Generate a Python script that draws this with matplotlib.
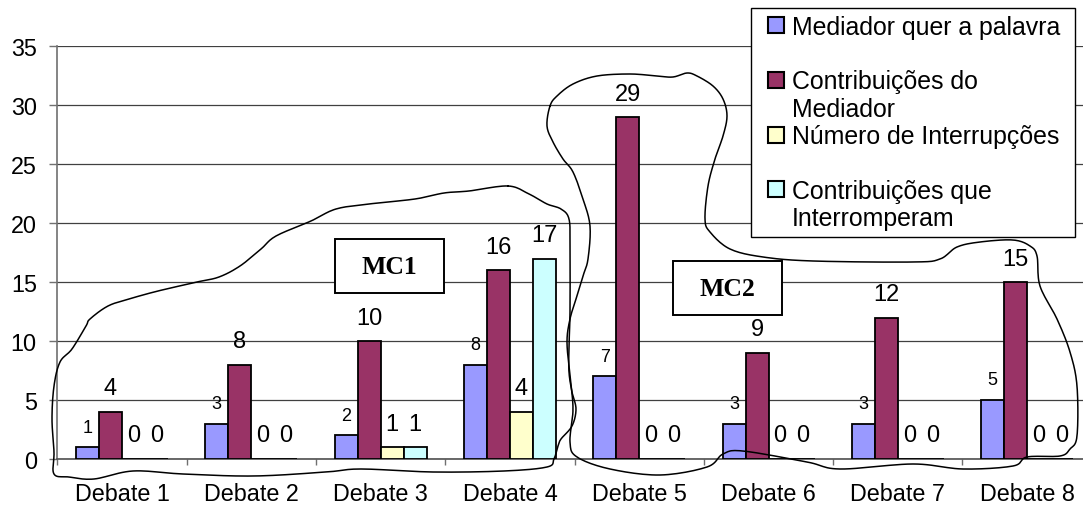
import numpy as np
import matplotlib
matplotlib.use("Agg")
import matplotlib.pyplot as plt
from matplotlib.patches import Rectangle, Patch
from matplotlib.transforms import Affine2D
from matplotlib.legend_handler import HandlerPatch
from matplotlib.font_manager import FontProperties

plt.rcParams["font.family"] = ["Liberation Sans", "DejaVu Sans"]

# ---- data -------------------------------------------------------------
debates = ["Debate 1", "Debate 2", "Debate 3", "Debate 4",
           "Debate 5", "Debate 6", "Debate 7", "Debate 8"]
mediador_quer = [1, 3, 2, 8, 7, 3, 3, 5]
contrib_mediador = [4, 8, 10, 16, 29, 9, 12, 15]
interrupcoes = [0, 0, 1, 4, 0, 0, 0, 0]
contrib_interromperam = [0, 0, 1, 17, 0, 0, 0, 0]

series_labels = ["Mediador quer a palavra",
                 "Contribuições do\nMediador",
                 "Número de Interrupções",
                 "Contribuições que\nInterromperam"]
series_colors = ["#9999FF", "#993366", "#FFFFCC", "#CCFFFF"]
y_ticks = [0, 5, 10, 15, 20, 25, 30, 35]

# freehand outlines around the two groups (figure pixels, y downwards)
mc1_outline = [
    (508, 187), (469, 192), (444, 194), (415, 200), (369, 205), (336, 210),
    (311, 222), (276, 237), (261, 250), (240, 267), (219, 278), (197, 283),
    (158, 292), (129, 300), (108, 307), (90, 320), (86, 327), (72, 350),
    (60, 363), (54, 387), (52, 420), (54, 453), (54, 475), (69, 478),
    (94, 480), (133, 472), (183, 475), (254, 477), (326, 473), (361, 470),
    (433, 473), (504, 472), (547, 468), (554, 460), (558, 447), (561, 440),
    (572, 427), (576, 410), (572, 393), (569, 373), (569, 347), (570, 313),
    (570, 247), (569, 220), (561, 210), (547, 205), (529, 195)]
mc2_outline = [
    (550, 107), (557, 97), (573, 85), (597, 77), (630, 75), (657, 77),
    (673, 78), (687, 74), (697, 77), (713, 87), (723, 100), (727, 117),
    (723, 137), (715, 160), (708, 187), (705, 220), (710, 233), (730, 250),
    (763, 258), (813, 262), (913, 263), (940, 260), (957, 248), (980, 243),
    (1013, 241), (1030, 247), (1037, 257), (1040, 287), (1057, 320),
    (1070, 353), (1077, 387), (1077, 437), (1070, 450), (1060, 457),
    (1027, 458), (1013, 467), (963, 470), (913, 465), (840, 470), (807, 463),
    (743, 452), (723, 455), (707, 468), (660, 476), (610, 470), (577, 458),
    (570, 443), (573, 410), (570, 377), (567, 343), (570, 320), (576, 300),
    (583, 277), (588, 260), (590, 227), (583, 200), (573, 173), (563, 160),
    (553, 143), (547, 127)]

# ---- figure -----------------------------------------------------------
W, H = 1083, 510
DPI = 100
fig = plt.figure(figsize=(W / DPI, H / DPI), dpi=DPI)
px = Affine2D().scale(1 / W, -1 / H).translate(0, 1) + fig.transFigure
pt_per_px = 72 / DPI

left, right, bottom, top = 57.4, 1091.8, 460.0, 47.3
ax = fig.add_axes([left / W, 1 - bottom / H, (right - left) / W, (bottom - top) / H])

x = np.arange(len(debates))
bw = 0.178
series = [mediador_quer, contrib_mediador, interrupcoes, contrib_interromperam]
containers = []
for i, (vals, col) in enumerate(zip(series, series_colors)):
    bc = ax.bar(x + (i - 1.5) * bw, vals, bw, color=col, edgecolor="black",
                linewidth=1.3, zorder=3)
    containers.append(bc)

ax.bar_label(containers[0], padding=8.4, fontsize=13)
for bc in containers[1:]:
    ax.bar_label(bc, padding=9, fontsize=17)

ax.set_xlim(-0.5, len(debates) - 0.5)
ax.set_ylim(0, 35)
ax.set_yticks(y_ticks)
ax.set_xticks(x)
ax.set_xticklabels(debates, fontsize=16.8)
ax.set_xticks(np.arange(len(debates) + 1) - 0.5, minor=True)
ax.tick_params(axis="x", which="major", length=0, pad=16.5)
ax.tick_params(axis="x", which="minor", length=4.3, direction="out",
               color="#707070", width=1)
ax.tick_params(axis="y", length=5.8, direction="out", color="#707070",
               width=1, labelsize=16.8, pad=9)

ax.yaxis.grid(True, color="#404040", linewidth=0.9)
ax.set_axisbelow(True)
for s in ("top", "right"):
    ax.spines[s].set_visible(False)
ax.spines["left"].set_color("#707070")
ax.spines["bottom"].set_color("#505050")
ax.spines["left"].set_linewidth(1.2)
ax.spines["bottom"].set_linewidth(1.2)

# ---- legend -----------------------------------------------------------
LEG_FS = 17.9
LINE_STEP_PX = 27.3    # distance between the two lines of an entry
ENTRY_STEP_PX = 54.7   # distance between consecutive entries
fs_px = LEG_FS / pt_per_px

renderer = fig.canvas.get_renderer()
_, lp_h, lp_d = renderer.get_text_width_height_descent(
    "lp", FontProperties(family=["Liberation Sans", "DejaVu Sans"], size=LEG_FS),
    ismath=False)
leg_ls = (LINE_STEP_PX - lp_d) / (lp_h - lp_d)
leg_labelspacing = (ENTRY_STEP_PX - (lp_h + LINE_STEP_PX)) / fs_px
square_yc_pt = (0.5 * LINE_STEP_PX + 0.5 * lp_d + 0.344 * fs_px) * pt_per_px


def first_line_square(legend, orig_handle, xdescent, ydescent, width,
                      height, fontsize):
    # square beside the first text line of a two-line entry
    side = 11.5
    return Rectangle((-xdescent + 7.4, square_yc_pt - side / 2), side, side)


handles = []
for lab, col in zip(series_labels, series_colors):
    text = lab if "\n" in lab else lab + "\n"
    handles.append(Patch(facecolor=col, edgecolor="black", linewidth=1.5,
                         label=text))

leg = ax.legend(handles=handles, loc="upper left", mode="expand",
                bbox_to_anchor=(751 / W, 1 - 235 / H, 324 / W, 226 / H),
                bbox_transform=fig.transFigure,
                fontsize=LEG_FS, frameon=True, fancybox=False, shadow=False,
                framealpha=1, edgecolor="black", borderpad=0.27,
                handlelength=1.056, handletextpad=0.32,
                labelspacing=leg_labelspacing, borderaxespad=0,
                handler_map={Patch: HandlerPatch(patch_func=first_line_square)})
leg.get_frame().set_linewidth(1.0)
leg.set_zorder(10)
for t in leg.get_texts():
    t.set_linespacing(leg_ls)

# ---- group boxes and hand-drawn outlines --------------------------------
for name, (bx, by) in {"MC1": (335, 240), "MC2": (673, 262)}.items():
    fig.add_artist(Rectangle((bx, by + 54), 109, -54, transform=px,
                             facecolor="white", edgecolor="black",
                             linewidth=1.4, zorder=6))
    fig.text(bx + 54.5, by + 28, name, transform=px, ha="center",
             va="center", fontsize=18.5, fontweight="bold",
             family="Liberation Serif", zorder=7)


def closed_spline(points, n=12):
    p = np.asarray(points, dtype=float)
    m = len(p)
    t = np.linspace(0, 1, n, endpoint=False)[:, None]
    out = []
    for i in range(m):
        p0, p1, p2, p3 = p[i - 1], p[i], p[(i + 1) % m], p[(i + 2) % m]
        seg = 0.5 * ((2 * p1) + (-p0 + p2) * t
                     + (2 * p0 - 5 * p1 + 4 * p2 - p3) * t ** 2
                     + (-p0 + 3 * p1 - 3 * p2 + p3) * t ** 3)
        out.append(seg)
    out = np.vstack(out)
    return np.vstack([out, out[:1]])


for outline in (mc1_outline, mc2_outline):
    curve = closed_spline(outline)
    fig.add_artist(plt.Line2D(curve[:, 0], curve[:, 1], transform=px,
                              color="black", linewidth=1.1, zorder=8))

fig.savefig("out.png", dpi=DPI)
